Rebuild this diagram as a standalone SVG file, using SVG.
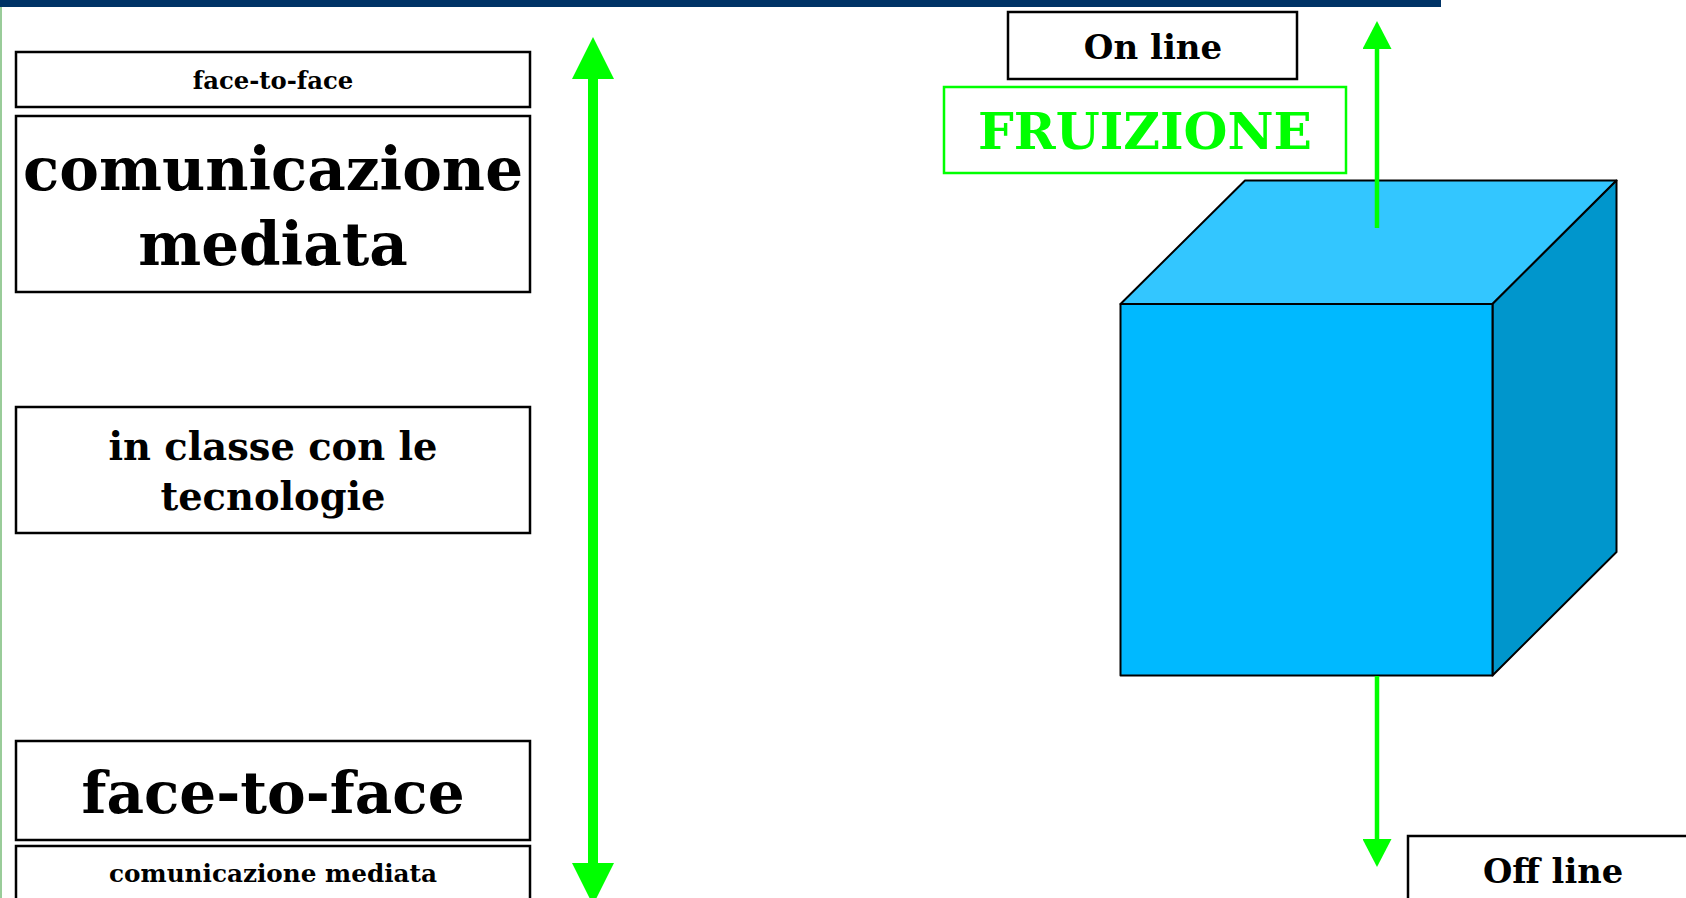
<svg xmlns="http://www.w3.org/2000/svg" width="1686" height="898" viewBox="0 0 1686 898">
<defs>
<style>
.box{fill:#fff;stroke:#000;stroke-width:2.5}
.t{font-family:"DejaVu Serif","Liberation Serif",serif;font-weight:bold;fill:#000;text-anchor:middle}
.arrow{stroke:#00ff00;fill:none}
</style>
<marker id="headBig" viewBox="0 0 42 42" markerWidth="42" markerHeight="42" markerUnits="userSpaceOnUse" refX="0" refY="21" orient="auto-start-reverse">
<path d="M0,0 L42,21 L0,42 z" fill="#00ff00"/>
</marker>
<marker id="headSmall" viewBox="0 0 28 29" markerWidth="28" markerHeight="29" markerUnits="userSpaceOnUse" refX="0" refY="14.5" orient="auto">
<path d="M0,0 L28,14.5 L0,29 z" fill="#00ff00"/>
</marker>
</defs>
<rect width="1686" height="898" fill="#fff"/>
<rect x="0" y="0" width="1441" height="7" fill="#003366"/>
<line x1="1" y1="7" x2="1" y2="898" stroke="#9c9" stroke-width="2"/>

<g id="node-f2f-small">
<rect class="box" x="16" y="52" width="514" height="55"/>
<text class="t" x="273" y="89" font-size="24.3">face-to-face</text>
</g>
<g id="node-com-big">
<rect class="box" x="16" y="116" width="514" height="176"/>
<text class="t" x="273" y="190" font-size="59.5">comunicazione</text>
<text class="t" x="273" y="265" font-size="59.5">mediata</text>
</g>
<g id="node-classe">
<rect class="box" x="16" y="407" width="514" height="126"/>
<text class="t" x="273" y="460" font-size="38.4">in classe con le</text>
<text class="t" x="273" y="510" font-size="38.4">tecnologie</text>
</g>
<g id="node-f2f-big">
<rect class="box" x="16" y="741" width="514" height="99"/>
<text class="t" x="273" y="813" font-size="58">face-to-face</text>
</g>
<g id="node-com-small">
<rect class="box" x="16" y="846" width="514" height="70"/>
<text class="t" x="273" y="882" font-size="24.7">comunicazione mediata</text>
</g>

<g id="node-online">
<rect class="box" x="1008" y="12" width="289" height="67"/>
<text class="t" x="1153" y="59" font-size="34">On line</text>
</g>
<g id="node-fruizione">
<rect x="944" y="87" width="402" height="86" fill="#fff" stroke="#00ff00" stroke-width="2.5"/>
<text class="t" x="1145" y="149" font-size="50.4" style="fill:#00ff00">FRUIZIONE</text>
</g>
<g id="node-cube" stroke="#000" stroke-width="2" stroke-linejoin="round">
<polygon points="1120.5,304 1245,180.5 1616.5,180.5 1492.5,304" fill="#33c6ff"/>
<polygon points="1492.5,304 1616.5,180.5 1616.5,552 1492.5,675.5" fill="#0096cc"/>
<rect x="1120.5" y="304" width="372" height="371.5" fill="#00b9ff"/>
</g>
<g id="node-offline">
<rect class="box" x="1408" y="836" width="300" height="100"/>
<text class="t" x="1553" y="883" font-size="33.7">Off line</text>
</g>

<g id="connectors">
<path class="arrow" d="M593,79 L593,863" stroke-width="10" marker-start="url(#headBig)" marker-end="url(#headBig)"/>
<path class="arrow" d="M1377,228 L1377,49" stroke-width="4.5" marker-end="url(#headSmall)"/>
<path class="arrow" d="M1377,676 L1377,839" stroke-width="4.5" marker-end="url(#headSmall)"/>
</g>
</svg>
